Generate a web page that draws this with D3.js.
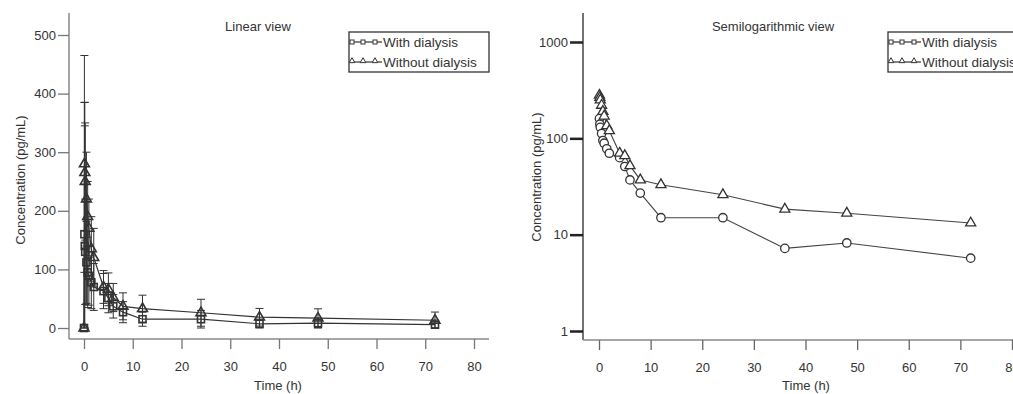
<!DOCTYPE html>
<html>
<head>
<meta charset="utf-8">
<script src="https://cdn.jsdelivr.net/npm/d3@7"></script>
<style>
  body { margin: 0; background: #fff; }
  text { font-family: "Liberation Sans", Arial, sans-serif; fill: #333; }
</style>
</head>
<body>
<div id="chart"></div>
<script>
// sampling times (h) and concentrations (pg/mL)
var times = [0, 0.083, 0.167, 0.25, 0.5, 0.75, 1, 1.5, 2, 4, 5, 6, 8, 12, 24, 36, 48, 72];
var withMean = [0, 160, 140, 130, 112, 95, 89, 78, 70, 63, 51, 37, 27, 15, 15, 7.2, 8.2, 5.7];
var withSD = [0, 225, 205, 90, 70, 60, 50, 45, 40, 30, 25, 20, 18, 12, 15, 8, 9, 8];
var withoutMean = [0, 280, 265, 250, 220, 190, 170, 135, 120, 70, 66, 52, 37, 33, 26, 18.4, 16.7, 13.2];
var withoutSD = [0, 185, 120, 100, 80, 60, 50, 55, 50, 28, 28, 24, 23, 23, 23, 15, 16, 14];
var seriesNames = ["With dialysis", "Without dialysis"];
var xTicks = [0, 10, 20, 30, 40, 50, 60, 70, 80];
var linTicks = [0, 100, 200, 300, 400, 500];
var logTicks = [1, 10, 100, 1000];

var W = 1013, H = 394;
var svg = d3.select("#chart").append("svg").attr("width", W).attr("height", H);

function rows(means, sds) {
  return times.map(function(t, i) { return {t: t, v: means[i], sd: sds[i]}; });
}
var withData = rows(withMean, withSD);
var withoutData = rows(withoutMean, withoutSD);

var triangle = d3.symbol().type(d3.symbolTriangle);
var ink = "#333";
var fs = "13px";

//----- left: linear view
var xL = d3.scaleLinear().domain([0, 80]).range([84, 474]);
var yL = d3.scaleLinear().domain([0, 500]).range([328, 35]);
var left = svg.append("g");

left.append("line").attr("x1", 69).attr("x2", 69).attr("y1", 13).attr("y2", 339)
  .attr("stroke", "#888").attr("stroke-width", 1.5);
left.append("line").attr("x1", 69).attr("x2", 489).attr("y1", 339).attr("y2", 339)
  .attr("stroke", "#888").attr("stroke-width", 1.5);

var yAxL = left.append("g").attr("transform", "translate(69,0)")
  .call(d3.axisLeft(yL).tickValues(linTicks).tickSize(11).tickPadding(2));
var xAxL = left.append("g").attr("transform", "translate(0,339)")
  .call(d3.axisBottom(xL).tickValues(xTicks).tickSize(10).tickPadding(13));

[yAxL, xAxL].forEach(function(a) {
  a.select(".domain").remove();
  a.selectAll("line").attr("stroke", "#777").attr("stroke-width", 1.3);
  a.selectAll("text").style("font-size", fs).style("font-family", "Liberation Sans, Arial").attr("fill", ink);
});

left.append("text").attr("x", 278).attr("y", 390).attr("text-anchor", "middle")
  .style("font-size", fs).text("Time (h)");
left.append("text").attr("transform", "translate(25,180) rotate(-90)").attr("text-anchor", "middle")
  .style("font-size", fs).text("Concentration (pg/mL)");
left.append("text").attr("x", 258).attr("y", 31).attr("text-anchor", "middle")
  .style("font-size", fs).text("Linear view");

function errorBars(g, data, x, y) {
  var eb = g.append("g").attr("stroke", ink).attr("stroke-width", 1);
  data.forEach(function(d) {
    if (d.sd <= 0) return;
    var lo = Math.max(0, d.v - d.sd), hi = d.v + d.sd;
    eb.append("line").attr("x1", x(d.t)).attr("x2", x(d.t)).attr("y1", y(lo)).attr("y2", y(hi));
    eb.append("line").attr("x1", x(d.t) - 4).attr("x2", x(d.t) + 4).attr("y1", y(hi)).attr("y2", y(hi));
    eb.append("line").attr("x1", x(d.t) - 4).attr("x2", x(d.t) + 4).attr("y1", y(lo)).attr("y2", y(lo));
  });
}
errorBars(left, withoutData, xL, yL);
errorBars(left, withData, xL, yL);

var lineL = d3.line().x(function(d) { return xL(d.t); }).y(function(d) { return yL(d.v); });
left.append("path").datum(withData).attr("d", lineL).attr("fill", "none").attr("stroke", ink).attr("stroke-width", 1.2);
left.append("path").datum(withoutData).attr("d", lineL).attr("fill", "none").attr("stroke", ink).attr("stroke-width", 1.2);

left.selectAll(".sq").data(withData).enter().append("rect")
  .attr("x", function(d) { return xL(d.t) - 3.5; }).attr("y", function(d) { return yL(d.v) - 3.5; })
  .attr("width", 7).attr("height", 7).attr("fill", "none").attr("stroke", ink).attr("stroke-width", 1.6);
left.selectAll(".tri").data(withoutData).enter().append("path")
  .attr("d", triangle.size(42))
  .attr("transform", function(d) { return "translate(" + xL(d.t) + "," + yL(d.v) + ")"; })
  .attr("fill", "none").attr("stroke", ink).attr("stroke-width", 1.6);

//----- right: semilogarithmic view
var xR = d3.scaleLinear().domain([0, 80]).range([599, 1012]);
var yR = d3.scaleLog().domain([1, 1000]).range([331, 42]);
var right = svg.append("g");

right.append("line").attr("x1", 583).attr("x2", 583).attr("y1", 13).attr("y2", 340)
  .attr("stroke", "#444").attr("stroke-width", 1.5);
right.append("line").attr("x1", 583).attr("x2", 1013).attr("y1", 340).attr("y2", 340)
  .attr("stroke", "#888").attr("stroke-width", 1.5);

var yAxR = right.append("g").attr("transform", "translate(583,0)")
  .call(d3.axisLeft(yR).tickValues(logTicks).tickFormat(d3.format("d")).tickSize(13).tickPadding(2));
var xAxR = right.append("g").attr("transform", "translate(0,340)")
  .call(d3.axisBottom(xR).tickValues(xTicks).tickSize(10).tickPadding(13));
yAxR.select(".domain").remove();
xAxR.select(".domain").remove();
yAxR.selectAll("line").attr("stroke", "#222").attr("stroke-width", 2.5);
xAxR.selectAll("line").attr("stroke", "#666").attr("stroke-width", 1.3);
[yAxR, xAxR].forEach(function(a) {
  a.selectAll("text").style("font-size", fs).style("font-family", "Liberation Sans, Arial").attr("fill", ink);
});

right.append("text").attr("x", 806).attr("y", 390).attr("text-anchor", "middle")
  .style("font-size", fs).text("Time (h)");
right.append("text").attr("transform", "translate(541,177) rotate(-90)").attr("text-anchor", "middle")
  .style("font-size", fs).text("Concentration (pg/mL)");
right.append("text").attr("x", 773).attr("y", 31).attr("text-anchor", "middle")
  .style("font-size", fs).text("Semilogarithmic view");

var withPos = withData.filter(function(d) { return d.v > 0; });
var withoutPos = withoutData.filter(function(d) { return d.v > 0; });
var lineR = d3.line().x(function(d) { return xR(d.t); }).y(function(d) { return yR(d.v); });
right.append("path").datum(withPos).attr("d", lineR).attr("fill", "none").attr("stroke", "#444").attr("stroke-width", 1.1);
right.append("path").datum(withoutPos).attr("d", lineR).attr("fill", "none").attr("stroke", "#444").attr("stroke-width", 1.1);

right.selectAll(".ci").data(withPos).enter().append("circle")
  .attr("cx", function(d) { return xR(d.t); }).attr("cy", function(d) { return yR(d.v); })
  .attr("r", 4.2).attr("fill", "#fff").attr("stroke", ink).attr("stroke-width", 1.3);
right.selectAll(".tr").data(withoutPos).enter().append("path")
  .attr("d", triangle.size(44))
  .attr("transform", function(d) { return "translate(" + xR(d.t) + "," + yR(d.v) + ")"; })
  .attr("fill", "#fff").attr("stroke", ink).attr("stroke-width", 1.3);

//----- legends
function legend(x0, y0) {
  var g = svg.append("g").attr("transform", "translate(" + x0 + "," + y0 + ")");
  g.append("rect").attr("x", 0).attr("y", 0).attr("width", 140).attr("height", 40)
    .attr("fill", "#fff").attr("stroke", "#333").attr("stroke-width", 1.3);
  seriesNames.forEach(function(name, i) {
    var yy = 10 + i * 20;
    g.append("line").attr("x1", 1).attr("x2", 33).attr("y1", yy).attr("y2", yy)
      .attr("stroke", ink).attr("stroke-width", 1.2);
    [3, 14, 26].forEach(function(px) {
      if (i === 0) {
        g.append("rect").attr("x", px - 2).attr("y", yy - 2).attr("width", 4).attr("height", 4)
          .attr("fill", "#fff").attr("stroke", ink).attr("stroke-width", 1);
      } else {
        g.append("path").attr("d", triangle.size(14))
          .attr("transform", "translate(" + px + "," + (yy - 1) + ")")
          .attr("fill", "#fff").attr("stroke", ink).attr("stroke-width", 1);
      }
    });
    g.append("text").attr("x", 34).attr("y", yy + 5).style("font-size", "13.5px").text(name);
  });
}
legend(349, 32);
legend(888, 32);
</script>
</body>
</html>
